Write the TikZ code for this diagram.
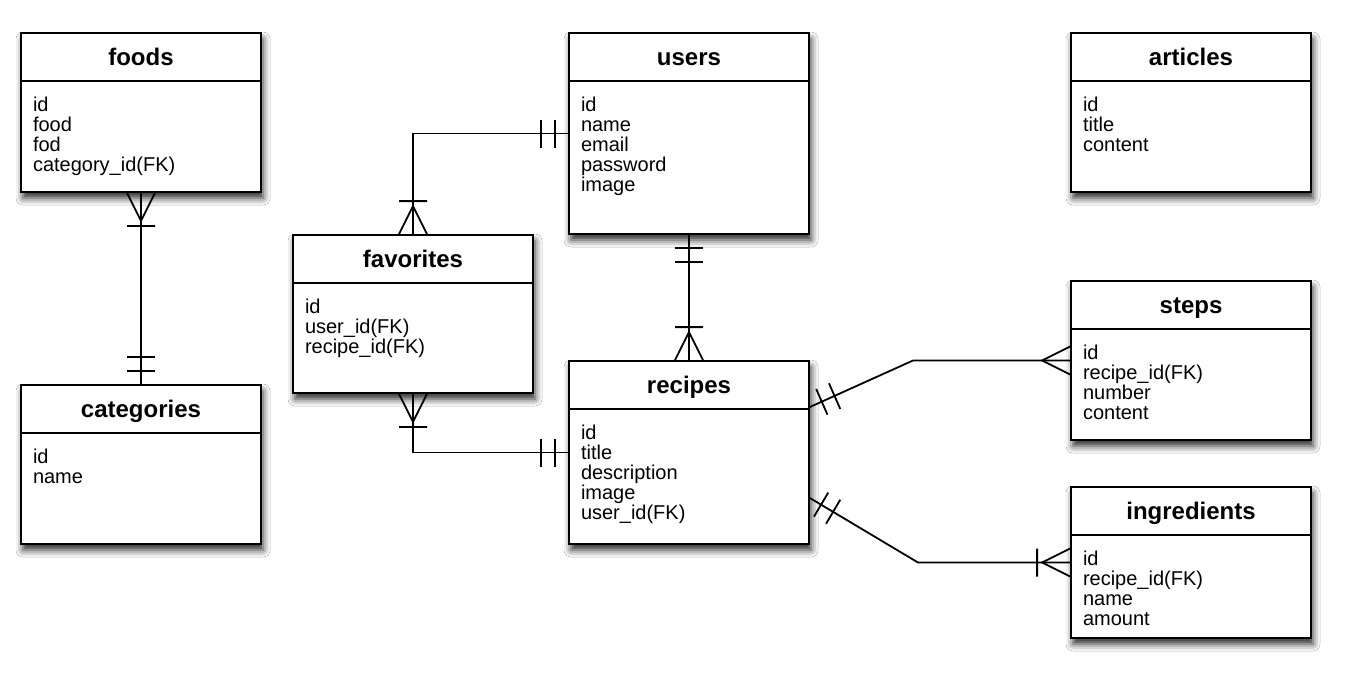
\documentclass[tikz,border=0pt]{standalone}
\usepackage{fontspec}
\setmainfont{Liberation Sans}
\usetikzlibrary{calc,shadows.blur}

\tikzset{
  tbl/.style={draw, fill=white, inner sep=0pt,
    blur shadow={shadow xshift=2pt, shadow yshift=-6pt,
                 shadow blur radius=7pt, shadow opacity=85}},
  ttl/.style={anchor=base, inner sep=0pt,
    font=\fontsize{24}{24}\selectfont\bfseries},
  fld/.style={anchor=base west, inner sep=0pt,
    font=\fontsize{20}{20}\selectfont},
  % cardinality marks, local x axis points away from the entity
  markone/.pic={\draw (13,-14) -- (13,14) (27,-14) -- (27,14);},
  markmany/.pic={\draw (0,-14) -- (28,0) -- (0,14);},
  markonemany/.pic={\draw (0,-14) -- (28,0) -- (0,14) (33,-14) -- (33,14);},
}

% name, left, top, width, height, title, fields
\newcommand\ertable[7]{%
  \node[tbl, minimum width=#4pt, minimum height=#5pt] (#1) at ({#2+#4/2},{#3+#5/2}) {};
  \draw ($(#1.north west)+(0,49)$) -- ($(#1.north east)+(0,49)$);
  \node[ttl] (#1-title) at ($(#1.north)+(0,33.5)$) {#6};
  \foreach \f [count=\i] in {#7}
    \node[fld] (#1-f\i) at ($(#1.north west)+(12,{79.5+20*(\i-1)})$) {\f};
}

\begin{document}
\begin{tikzpicture}[x=1pt, y=-1pt, line width=1.8pt]
  \fill[white] (0,0) rectangle (1348,678);
  \useasboundingbox (0,0) rectangle (1348,678);

  \ertable{foods}{21}{33}{240}{159}{foods}{id,food,fod,category\_id(FK)}
  \ertable{users}{569}{33}{240}{201}{users}{id,name,email,password,image}
  \ertable{articles}{1071}{33}{240}{159}{articles}{id,title,content}
  \ertable{favorites}{293}{235}{240}{158}{favorites}{id,user\_id(FK),recipe\_id(FK)}
  \ertable{categories}{21}{385}{240}{159}{categories}{id,name}
  \ertable{recipes}{569}{361}{240}{183}{recipes}{id,title,description,image,user\_id(FK)}
  \ertable{steps}{1071}{281}{240}{159}{steps}{id,recipe\_id(FK),number,content}
  \ertable{ingredients}{1071}{487}{240}{151}{ingredients}{id,recipe\_id(FK),name,amount}

  % relationships
  \draw (foods.south) -- (categories.north);
  \pic[rotate=-90] at (foods.south) {markonemany};
  \pic[rotate=90] at (categories.north) {markone};

  \draw (users.west) -| (favorites.north);
  \pic[rotate=180] at (users.west) {markone};
  \pic[rotate=90] at (favorites.north) {markonemany};

  \draw (favorites.south) |- (recipes.west);
  \pic[rotate=-90] at (favorites.south) {markonemany};
  \pic[rotate=180] at (recipes.west) {markone};

  \draw (users.south) -- (recipes.north);
  \pic[rotate=-90] at (users.south) {markone};
  \pic[rotate=90] at (recipes.north) {markonemany};

  \coordinate (rs) at ($(recipes.east)+(0,-45.5)$);
  \coordinate (bs) at (913,360.5);
  \draw (rs) -- (bs) -- (steps.west);
  \pic[rotate=23.7] at (rs) {markone};
  \pic[rotate=180] at (steps.west) {markmany};

  \coordinate (ri) at ($(recipes.east)+(0,45.5)$);
  \coordinate (bi) at (918,562.5);
  \draw (ri) -- (bi) -- (ingredients.west);
  \pic[rotate=-30.6] at (ri) {markone};
  \pic[rotate=180] at (ingredients.west) {markonemany};
\end{tikzpicture}
\end{document}
